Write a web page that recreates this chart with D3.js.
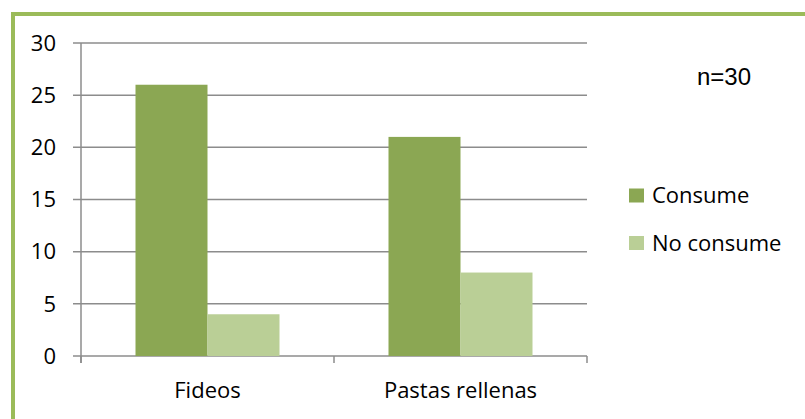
<!DOCTYPE html>
<html>
<head>
<meta charset="utf-8">
<script src="https://cdn.jsdelivr.net/npm/d3@7"></script>
<style>
  html, body { margin: 0; padding: 0; background: #ffffff; }
  svg { display: block; }
</style>
</head>
<body>
<svg id="chart" width="805" height="419"></svg>
<script>
const categories = ["Fideos", "Pastas rellenas"];
const seriesNames = ["Consume", "No consume"];
const consume = [26, 21];
const noConsume = [4, 8];
const yTicks = [0, 5, 10, 15, 20, 25, 30];
const note = "n=30";

const colors = ["#8BA753", "#BACF96"];
const font = "'Open Sans', Calibri, sans-serif";
const fs = 22;

const svg = d3.select("#chart");

// outer frame
svg.append("rect")
  .attr("x", 13).attr("y", 14)
  .attr("width", 900).attr("height", 600)
  .attr("fill", "#ffffff")
  .attr("stroke", "#9BBB59")
  .attr("stroke-width", 4);

const plotL = 81, plotR = 587, plotT = 43, plotB = 356;

const y = d3.scaleLinear().domain([0, 30]).range([plotB, plotT]);
const x0 = d3.scaleBand().domain(categories).range([plotL, plotR])
  .paddingInner(1 - 144 / 253).paddingOuter((1 - 144 / 253) / 2);
const x1 = d3.scaleBand().domain(seriesNames).range([0, x0.bandwidth()]);

// gridlines
const g = svg.append("g");
g.selectAll("line.grid").data(yTicks).join("line")
  .attr("x1", plotL - 8).attr("x2", plotR)
  .attr("y1", d => y(d)).attr("y2", d => y(d))
  .attr("stroke", "#8c8c8c").attr("stroke-width", 1.5);

// y axis line
g.append("line")
  .attr("x1", plotL).attr("x2", plotL)
  .attr("y1", y(30)).attr("y2", plotB + 7)
  .attr("stroke", "#8c8c8c").attr("stroke-width", 1.5);

// category ticks
const catTicks = [plotL, x0.step() + plotL, plotR];
g.selectAll("line.ct").data(catTicks).join("line")
  .attr("x1", d => d).attr("x2", d => d)
  .attr("y1", plotB).attr("y2", plotB + 7)
  .attr("stroke", "#8c8c8c").attr("stroke-width", 1.5);

// y labels
g.selectAll("text.yl").data(yTicks).join("text")
  .attr("x", 56).attr("y", d => y(d))
  .attr("dy", "0.35em")
  .attr("text-anchor", "end")
  .attr("font-family", font).attr("font-size", fs)
  .attr("fill", "#000")
  .text(d => d);

// bars
const data = categories.map((c, i) => ({ cat: c, vals: [consume[i], noConsume[i]] }));
const grp = svg.append("g").selectAll("g").data(data).join("g")
  .attr("transform", d => `translate(${x0(d.cat)},0)`);
grp.selectAll("rect").data(d => d.vals.map((v, j) => ({ s: seriesNames[j], v, j })))
  .join("rect")
  .attr("x", d => x1(d.s))
  .attr("y", d => y(d.v))
  .attr("width", x1.bandwidth())
  .attr("height", d => plotB - y(d.v))
  .attr("fill", d => colors[d.j]);

// category labels
svg.selectAll("text.cl").data(categories).join("text")
  .attr("x", d => x0(d) + x0.bandwidth() / 2)
  .attr("y", 398)
  .attr("text-anchor", "middle")
  .attr("font-family", font).attr("font-size", fs)
  .attr("fill", "#000")
  .text(d => d);

// note
svg.append("text")
  .attr("x", 697).attr("y", 85)
  .attr("font-family", "'Liberation Sans', Arial, sans-serif")
  .attr("font-size", 24)
  .attr("fill", "#000")
  .text(note);

// legend
const lg = svg.append("g");
const legY = [195.5, 243];
seriesNames.forEach((s, i) => {
  lg.append("rect")
    .attr("x", 629).attr("y", legY[i] - 7)
    .attr("width", 15).attr("height", 14)
    .attr("fill", colors[i]);
  lg.append("text")
    .attr("x", 652).attr("y", legY[i])
    .attr("dy", "0.35em")
    .attr("font-family", font).attr("font-size", fs)
    .attr("fill", "#000")
    .text(s);
});
</script>
</body>
</html>
